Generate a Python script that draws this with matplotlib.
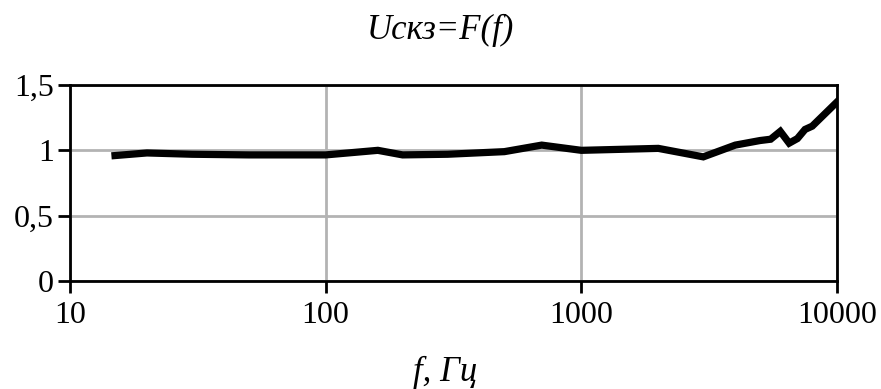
import matplotlib
matplotlib.use("Agg")
import matplotlib.pyplot as plt
from matplotlib.ticker import FixedLocator, FuncFormatter, NullLocator

freq = [15, 20, 30, 50, 100, 160, 200, 300, 500, 700, 1000, 2000, 3000, 4000,
        5000, 5500, 6000, 6500, 7000, 7500, 8000, 10000]
u_skz = [0.96, 0.98, 0.97, 0.965, 0.965, 1.0, 0.965, 0.97, 0.99, 1.04, 1.0, 1.015,
         0.95, 1.04, 1.075, 1.085, 1.145, 1.055, 1.09, 1.16, 1.185, 1.37]
x_ticks = [10, 100, 1000, 10000]
y_ticks = [0, 0.5, 1, 1.5]

plt.rcParams['font.family'] = ['Liberation Serif', 'DejaVu Serif']

fig = plt.figure(figsize=(8.81, 3.89), dpi=100)
ax = fig.add_axes([70/881, 1-281/389, (837-70)/881, (281-85)/389])

ax.plot(freq, u_skz, color='black', lw=5.2, solid_joinstyle='miter', zorder=3)
ax.set_xscale('log')
ax.set_xlim(10, 10000)
ax.set_ylim(0, 1.5)
ax.xaxis.set_major_locator(FixedLocator(x_ticks))
ax.xaxis.set_minor_locator(NullLocator())
ax.xaxis.set_major_formatter(FuncFormatter(lambda v, p: f"{int(v)}"))
ax.yaxis.set_major_locator(FixedLocator(y_ticks))
ax.yaxis.set_major_formatter(FuncFormatter(lambda v, p: (f"{v:g}").replace('.', ',')))
ax.grid(True, color='#b3b3b3', lw=2)
ax.set_axisbelow(True)
for s in ax.spines.values():
    s.set_linewidth(2)
    s.set_color('black')
ax.tick_params(axis='both', direction='out', length=8.5, width=2, labelsize=23, pad=3)
ax.tick_params(axis='x', pad=6)

fig.text(440/881, 1-30/389, 'Uскз=F(f)', ha='center', va='center', fontsize=25, style='italic')
fig.text(445/881, 1-372/389, 'f, Гц', ha='center', va='center', fontsize=25, style='italic')

fig.savefig('out.png', dpi=100)
